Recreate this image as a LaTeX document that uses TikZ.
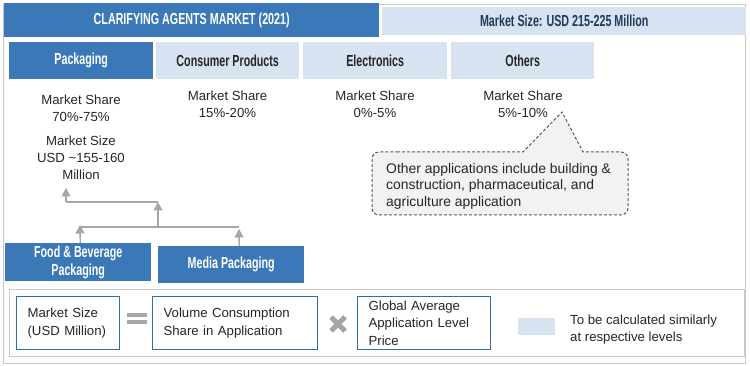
\documentclass[tikz,border=0pt]{standalone}
\usepackage{fontspec}
\setmainfont{Liberation Sans}
\newfontfamily\hdr[FakeStretch=0.67]{Liberation Sans}
\usetikzlibrary{arrows.meta}
\definecolor{dblue}{HTML}{3A78B8}
\definecolor{lblue}{HTML}{D7E3F0}
\definecolor{navy}{HTML}{1F3A5C}
\definecolor{txt}{HTML}{262626}
\definecolor{arr}{HTML}{A6A6A6}
\definecolor{frm}{HTML}{C8C8C8}
\definecolor{callfill}{HTML}{F2F2F2}
\definecolor{calldraw}{HTML}{595959}
\definecolor{fblue}{HTML}{2E6DAE}
\tikzset{
  hbox/.style={rectangle, inner sep=0pt, anchor=north west, align=center,
    font=\hdr\bfseries\fontsize{16}{17.5}\selectfont},
  darkbox/.style={hbox, fill=dblue, text=white},
  lightbox/.style={hbox, fill=lblue, text=txt},
  bodytxt/.style={inner sep=0pt, align=center, text=txt,
    font=\fontsize{13.2}{17}\selectfont},
  formbox/.style={rectangle, draw=fblue, line width=1.2pt, fill=white,
    anchor=north west, inner xsep=11pt, inner ysep=0pt, align=left, text=txt,
    minimum height=53pt, font=\fontsize{13.2}{17.5}\selectfont},
  conn/.style={draw=arr, line width=1.3pt},
  arrowst/.style={conn, -{Triangle[length=8.5pt,width=9pt]}},
}
\begin{document}
\begin{tikzpicture}[x=1pt,y=-1pt]
\useasboundingbox (0,0) rectangle (750,366);
% outer frame
\draw[frm, line width=0.8pt] (3.5,4) rectangle (745.5,363);
% header
\node[darkbox, minimum width=375pt, minimum height=34pt] (title) at (4,3) {CLARIFYING AGENTS MARKET (2021)};
\node[hbox, fill=lblue, text=navy, minimum width=364pt, minimum height=28pt] (msize) at (382,7) {Market Size: USD 215-225 Million};
% categories
\node[darkbox, minimum width=144pt, minimum height=37pt] (pack) at (9,42) {Packaging};
\node[lightbox, minimum width=143pt, minimum height=37pt] (cons) at (156,42) {Consumer Products};
\node[lightbox, minimum width=144pt, minimum height=37pt] (elec) at (303,42) {Electronics};
\node[lightbox, minimum width=143pt, minimum height=37pt] (oth) at (451,42) {Others};
% shares
\node[bodytxt] (ms1) at (81,108) {Market Share\\70\%-75\%};
\node[bodytxt] (ms2) at (227.5,104.5) {Market Share\\15\%-20\%};
\node[bodytxt] (ms3) at (375,104.5) {Market Share\\0\%-5\%};
\node[bodytxt] (ms4) at (523,104.5) {Market Share\\5\%-10\%};
\node[bodytxt] (psize) at (81,158) {Market Size\\USD \textasciitilde155-160\\Million};
% callout
\draw[calldraw, fill=callfill, line width=1pt, dash pattern=on 3pt off 2pt]
  (390,152) [sharp corners] -- (523,152) -- (562,112) -- (583,152) -- (610,152)
  [rounded corners=7pt] -- (628,152) -- (628,215) -- (372,215) -- (372,152) -- cycle;
\node[bodytxt, align=left, anchor=west, font=\fontsize{13.9}{16.5}\selectfont] (callt) at (386,186) {Other applications include building \&\\construction, pharmaceutical, and\\agriculture application};
% sub-segments
\node[darkbox, minimum width=146pt, minimum height=38pt] (food) at (5,243) {Food \& Beverage\\Packaging};
\node[darkbox, minimum width=146pt, minimum height=37pt] (media) at (158,246) {Media Packaging};
% connectors
\coordinate (lowL) at (80,227);
\coordinate (lowM) at (158,227);
\coordinate (lowR) at (239,227);
\coordinate (upL) at (66,202);
\coordinate (upR) at (158,202);
\coordinate (topTip) at (66,188);
\draw[conn] (lowL) -- (lowR);
\draw[conn] (upL) -- (upR);
\draw[arrowst] ([xshift=2pt]food.north) -- ([yshift=2pt]lowL);
\draw[arrowst] ([xshift=8pt]media.north) -- ([yshift=-2pt]lowR);
\draw[arrowst] (lowM) -- (upR);
\draw[arrowst] (upL) -- (topTip);
% formula
\draw[frm, line width=0.8pt] (9.5,289) rectangle (744,356);
\node[formbox, text width=81pt] (f1) at (16,296) {Market Size\\(USD Million)};
\node[formbox, text width=143pt] (f2) at (152,296) {Volume Consumption\\Share in Application};
\node[formbox, text width=111pt] (f3) at (357,296) {Global Average\\Application Level\\Price};
\fill[arr] (127,313) rectangle (147,316.5);
\fill[arr] (127,320) rectangle (147,323.5);
\draw[arr, line width=5pt] (331,317) -- (345,331) (331,331) -- (345,317);
% legend
\fill[lblue] (518,318) rectangle (555,335);
\node[bodytxt, align=left, anchor=west] (legt) at (570,330) {To be calculated similarly\\at respective levels};
\end{tikzpicture}
\end{document}
